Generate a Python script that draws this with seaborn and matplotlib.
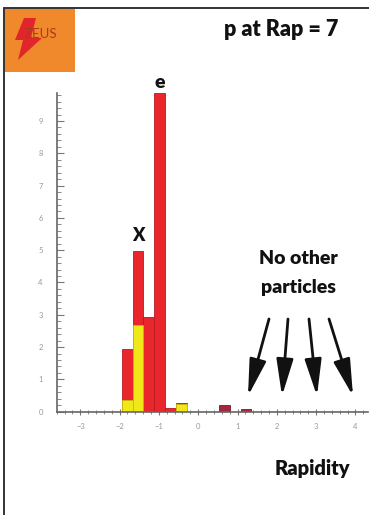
import matplotlib.pyplot as plt
import seaborn as sns
from matplotlib.patches import Rectangle, Polygon
from matplotlib.lines import Line2D
from matplotlib.ticker import MultipleLocator

# histogram bins (rapidity) and contents
bin_edges = [-1.945, -1.67, -1.395, -1.12, -0.845, -0.57, -0.295,
             -0.02, 0.255, 0.53, 0.805, 1.08, 1.355]
red_counts = [1.93, 4.98, 2.94, 9.86, 0.12, 0.28, 0, 0, 0, 0, 0, 0]
yellow_counts = [0.36, 2.68, 0, 0, 0, 0.25, 0, 0, 0, 0, 0, 0]
dark_counts = [0, 0, 0, 0, 0, 0, 0, 0, 0, 0.2, 0, 0.08]
x_ticks = [-3, -2, -1, 0, 1, 2, 3, 4]
y_ticks = [0, 1, 2, 3, 4, 5, 6, 7, 8, 9]

W, H = 369, 515


def fx(px):
    return px / W


def fy(py):
    return 1 - py / H


sns.set_style('white')
plt.rcParams['font.family'] = ['Lato', 'DejaVu Sans']

fig = plt.figure(figsize=(W / 100, H / 100), dpi=100)
ax = fig.add_axes([0.1537, 0.2006, 0.8436, 0.6184])

centers = [(a + b) / 2 for a, b in zip(bin_edges[:-1], bin_edges[1:])]

sns.histplot(x=centers, weights=red_counts, bins=bin_edges, color='#e8262b',
             alpha=1, edgecolor='#b51a20', linewidth=0.6, ax=ax)
sns.histplot(x=centers, weights=yellow_counts, bins=bin_edges, color='#f1e81a',
             alpha=1, edgecolor='#c9b80f', linewidth=0.6, ax=ax)
sns.histplot(x=centers, weights=dark_counts, bins=bin_edges, color='#a3283c',
             alpha=1, edgecolor='#7c1a2a', linewidth=0.6, ax=ax)

ax.set_xlim(-3.60, 4.32)
ax.set_ylim(0, 9.86)
ax.set_xticks(x_ticks)
ax.set_yticks(y_ticks)
ax.set_xticklabels([str(t).replace('-', '\u2212') for t in x_ticks])
ax.set_yticklabels([str(t) for t in y_ticks])
ax.xaxis.set_minor_locator(MultipleLocator(0.2))
ax.yaxis.set_minor_locator(MultipleLocator(0.2))
ax.set_xlabel('')
ax.set_ylabel('')
ax.tick_params(axis='both', which='both', colors='#777777', labelsize=5.5,
               labelcolor='#999999')
ax.tick_params(axis='x', which='major', direction='inout', length=5, width=0.8, pad=6)
ax.tick_params(axis='x', which='minor', direction='inout', length=3, width=0.6)
ax.tick_params(axis='y', which='major', direction='in', length=5, width=0.8, pad=10)
ax.tick_params(axis='y', which='minor', direction='in', length=3, width=0.6)
ax.tick_params(bottom=True, left=True, which='both')
for side in ['top', 'right']:
    ax.spines[side].set_visible(False)
for side in ['left', 'bottom']:
    ax.spines[side].set_color('#666666')
    ax.spines[side].set_linewidth(1.2)

# particle labels
ax.text(centers[1], 5.45, 'X', ha='center', va='center', fontsize=13,
        fontweight='heavy', color='#111111')
ax.text(centers[3], 10.2, 'e', ha='center', va='center', fontsize=14,
        fontweight='heavy', color='#111111', clip_on=False)

# frame lines
fig.add_artist(Line2D([fx(4), fx(4)], [fy(8), 0], color='#333333', lw=1.4))
fig.add_artist(Line2D([fx(4), 1], [fy(8), fy(8)], color='#333333', lw=1.4))

# ZEUS logo
fig.add_artist(Rectangle((fx(4), fy(72)), fx(71), 64 / H, transform=fig.transFigure,
                         facecolor='#f0892b', edgecolor='none'))
fig.add_artist(Polygon([(fx(24), fy(18)), (fx(15), fy(40)), (fx(23), fy(40)),
                        (fx(18), fy(60)), (fx(42), fy(38)), (fx(31), fy(38)),
                        (fx(36), fy(18))], closed=True, transform=fig.transFigure,
                       facecolor='#e0262a', edgecolor='none'))
fig.text(fx(41), fy(34), 'ZEUS', ha='center', va='center', fontsize=9.5,
         color='#a83a1c')

# titles and notes
fig.text(fx(281), fy(30), 'p at Rap = 7', ha='center', va='center', fontsize=15.5,
         fontweight='heavy', color='#111111')
fig.text(fx(298), fy(258), 'No other', ha='center', va='center', fontsize=14,
         fontweight='heavy', color='#111111')
fig.text(fx(298), fy(287), 'particles', ha='center', va='center', fontsize=14,
         fontweight='heavy', color='#111111')
fig.text(fx(312), fy(469), 'Rapidity', ha='center', va='center', fontsize=14.5,
         fontweight='heavy', color='#111111')

# arrows
arrow_from = [(269, 319), (288, 319), (309, 319), (329, 319)]
arrow_to = [(248, 396), (282, 396), (317, 396), (353, 396)]
for (x1, y1), (x2, y2) in zip(arrow_from, arrow_to):
    ax.annotate('', xy=(fx(x2), fy(y2)), xytext=(fx(x1), fy(y1)),
                xycoords='figure fraction', textcoords='figure fraction',
                arrowprops=dict(arrowstyle='-|>,head_length=1.4,head_width=0.32',
                                mutation_scale=16, lw=2, color='#111111',
                                shrinkA=0, shrinkB=0))

fig.savefig('out.png', dpi=100)
